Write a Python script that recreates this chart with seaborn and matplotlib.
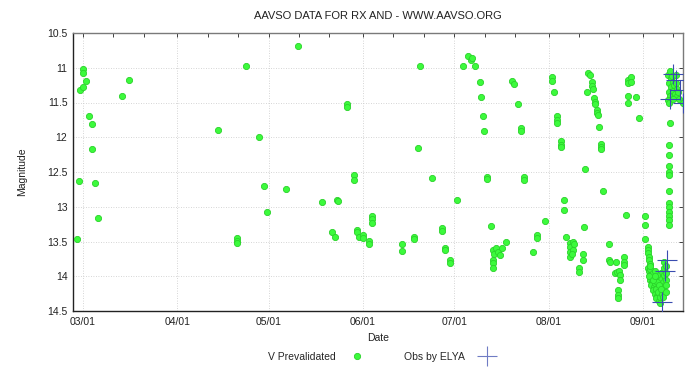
import numpy as np
import pandas as pd
import matplotlib
matplotlib.use("Agg")
import matplotlib.pyplot as plt
import matplotlib.dates as mdates
from matplotlib.lines import Line2D
import seaborn as sns

# ---------------- data (days after 1 March, magnitude) ----------------
start_date = "2013-03-01"

v_days = [
    -1.9, -1.2, -0.9, -0.1, -0.1, 0.1, 1.0, 2.0, 2.9, 3.1, 3.9, 5.0, 12.8, 15.1,
    44.5, 50.5, 50.5, 50.6, 53.6, 57.9,
    59.5, 60.6, 66.6, 70.7, 78.5, 81.7, 82.7, 83.6, 83.8, 86.9, 86.9, 88.9, 88.9,
    89.9, 90.0, 90.7, 91.9, 91.9, 93.9, 93.9, 94.9, 94.9, 94.9,
    104.9, 104.9, 108.8, 108.8, 110.0, 110.8, 114.8, 117.9, 117.9, 119.0, 119.1,
    120.6, 120.6, 122.8, 124.8,
    126.6, 127.4, 127.9, 128.8, 130.5, 130.9, 131.6, 131.9, 132.9, 132.9, 134.0,
    134.8, 135.0, 134.8, 134.8, 134.8, 135.9, 136.5, 137.0, 137.8, 138.9, 140.9,
    141.7, 143.0, 143.8, 143.8, 145.0, 145.0, 148.0, 149.1, 149.1, 151.9,
    154.0, 154.0, 154.9, 155.9, 155.9, 155.9, 157.0, 157.0, 157.0, 158.1, 158.1,
    158.7, 160.0, 160.2, 160.0, 160.0, 161.0, 161.5, 161.2, 160.8, 162.9, 162.9,
    164.2, 164.2, 164.6, 165.1, 165.5, 166.1, 166.6, 167.4, 167.4, 167.7, 168.1,
    168.4, 168.4, 168.8, 168.8, 169.1, 169.6, 170.1, 170.1, 170.1, 170.8, 173.0,
    173.0, 173.2, 175.2, 175.0, 175.6, 176.2, 176.6, 176.6, 175.9, 175.9, 175.9,
    177.9, 177.9, 177.9, 178.6, 179.2, 179.2, 179.2, 179.2, 180.0, 180.0, 181.7,
    182.8,
    184.6, 184.6, 184.7, 185.7, 185.8, 185.8, 186.0, 186.0, 186.2,
    185.6, 185.9, 186.2, 186.5, 186.8, 186.4, 187.0, 187.3, 186.7, 187.6, 187.2,
    188.0, 187.9, 188.3, 188.6, 188.2, 189.0, 189.3, 189.6, 189.8, 190.2, 190.5,
    190.4, 190.1, 189.4, 188.8, 188.5, 187.9, 190.8, 190.9, 191.0, 186.0, 186.3,
    187.5, 188.0, 189.2, 189.9, 190.6,
    191.7, 191.7, 191.6, 191.5, 191.6,
    192.9, 192.7, 192.7, 192.7, 192.7, 192.7, 192.7, 192.7, 192.7, 192.7, 192.7,
    192.7, 192.7,
    192.4, 192.8, 193.1, 192.6, 193.3, 192.5, 193.0, 192.3, 192.7, 193.6, 194.0,
    194.3, 194.0, 194.5, 195.0, 195.3, 195.0, 195.6, 196.0, 197.1, 193.8, 194.8,
]

v_mags = [
    13.46, 12.63, 11.32, 11.28, 11.02, 11.07, 11.19, 11.69, 11.81, 12.17, 12.66, 13.16, 11.41, 11.17,
    11.90, 13.45, 13.49, 13.52, 10.97, 12.00,
    12.70, 13.08, 12.74, 10.69, 12.93, 13.37, 13.43, 12.90, 12.92, 11.52, 11.57, 12.55, 12.62,
    13.33, 13.36, 13.43, 13.41, 13.45, 13.49, 13.54, 13.14, 13.18, 13.23,
    13.53, 13.64, 13.43, 13.47, 12.15, 10.98, 12.58, 13.30, 13.35, 13.60, 13.62,
    13.77, 13.81, 12.91, 10.97,
    10.83, 10.89, 10.86, 10.97, 11.21, 11.42, 11.69, 11.91, 12.57, 12.60, 13.27,
    13.62, 13.68, 13.77, 13.81, 13.88, 13.60, 13.65, 13.69, 13.60, 13.51, 11.19,
    11.23, 11.52, 11.86, 11.91, 12.57, 12.61, 13.65, 13.41, 13.45, 13.20,
    11.13, 11.19, 11.35, 11.70, 11.75, 11.80, 12.06, 12.11, 12.14, 12.90, 13.05,
    13.44, 13.52, 13.58, 13.65, 13.72, 13.50, 13.53, 13.62, 13.68, 13.88, 13.94,
    13.68, 13.76, 13.29, 12.45, 11.35, 11.07, 11.10, 11.21, 11.26, 11.30, 11.44,
    11.49, 11.52, 11.61, 11.65, 11.68, 11.85, 12.09, 12.14, 12.17, 12.78, 13.54,
    13.76, 13.80, 13.80, 13.95, 13.94, 13.92, 13.98, 14.06, 14.20, 14.27, 14.32,
    13.73, 13.79, 13.84, 13.12, 11.18, 11.22, 11.41, 11.50, 11.13, 11.21, 11.42,
    11.73,
    13.14, 13.26, 13.47, 13.58, 13.62, 13.67, 13.72, 13.77, 13.82,
    13.88, 13.93, 13.98, 13.90, 14.02, 14.05, 14.08, 13.96, 14.12, 14.15, 14.20,
    14.10, 14.25, 14.18, 14.28, 14.32, 14.22, 14.35, 14.30, 14.38, 14.25, 14.15,
    14.05, 13.95, 14.02, 14.08, 13.98, 13.92, 13.88, 13.80, 13.98, 14.00, 13.85,
    14.05, 14.00, 14.12, 14.18, 14.30,
    13.85, 13.95, 14.05, 14.12, 14.22,
    11.80, 12.11, 12.26, 12.42, 12.50, 12.55, 12.78, 12.95, 13.00, 13.07, 13.14,
    13.19, 13.26,
    11.10, 11.05, 11.15, 11.22, 11.28, 11.35, 11.40, 11.46, 11.50, 11.12, 11.20,
    11.25, 11.33, 11.38, 11.22, 11.30, 11.42, 11.35, 11.45, 11.51, 11.45, 11.10,
]

elya_days = [193.8, 195.0, 196.2, 192.9, 197.3, 191.8, 191.2, 190.2]
elya_mags = [11.09, 11.17, 11.32, 11.45, 11.51, 13.77, 13.92, 14.37]

title = "AAVSO DATA FOR RX AND - WWW.AAVSO.ORG"
v_label = "V Prevalidated"
elya_label = "Obs by ELYA"
y_ticks = [10.5, 11, 11.5, 12, 12.5, 13, 13.5, 14, 14.5]

# ---------------- build frames ----------------
base = pd.Timestamp(start_date)
v_df = pd.DataFrame({"date": base + pd.to_timedelta(v_days, unit="D"), "mag": v_mags})
e_df = pd.DataFrame({"date": base + pd.to_timedelta(elya_days, unit="D"), "mag": elya_mags})

sns.set_theme(style="white")
plt.rcParams["font.family"] = ["Liberation Sans", "DejaVu Sans"]

GREEN_FACE, GREEN_EDGE, BLUE = "#3cfa3c", "#2ad22a", "#3a4cb0"

W, H = 700, 368
fig = plt.figure(figsize=(W / 100, H / 100), dpi=100)
L, R, T, B = 73, 683.3, 33, 311
ax = fig.add_axes([L / W, 1 - B / H, (R - L) / W, (B - T) / H])

sns.scatterplot(data=v_df, x="date", y="mag", ax=ax, marker="o", s=20,
                color=GREEN_FACE, edgecolor=GREEN_EDGE, linewidth=0.6,
                legend=False, zorder=3)
sns.scatterplot(data=e_df, x="date", y="mag", ax=ax, marker="+", s=210,
                color=BLUE, linewidth=0.8, legend=False, zorder=4)

ax.set_xlim(base - pd.Timedelta(days=3.3), base + pd.Timedelta(days=197.3))
ax.set_ylim(14.5, 10.5)
ax.set_yticks(y_ticks)
ax.set_yticklabels([f"{t:g}" for t in y_ticks])

ax.xaxis.set_major_locator(mdates.MonthLocator())
ax.xaxis.set_major_formatter(mdates.DateFormatter("%m/%d"))
ax.xaxis.set_minor_locator(mdates.DayLocator(bymonthday=[11, 21]))

ax.tick_params(axis="both", which="both", direction="in", top=True, right=True,
               labelsize=7.5, colors="#222222", pad=4)
ax.tick_params(axis="both", which="major", length=3, width=0.6)
ax.tick_params(axis="x", which="minor", length=3, width=0.6)

ax.grid(True, which="major", color="#c8c8c8", linestyle=(0, (1, 2)), linewidth=0.6)
ax.set_axisbelow(True)

for side in ["left", "bottom"]:
    ax.spines[side].set_color("#222222")
    ax.spines[side].set_linewidth(1.0)
for side in ["top", "right"]:
    ax.spines[side].set_color("#7a7a7a")
    ax.spines[side].set_linewidth(1.0)

ax.set_xlabel("Date", fontsize=7.5, color="#222222")
ax.xaxis.set_label_coords(0.5, (B - 338) / (B - T))
ax.xaxis.label.set_va("center")
ax.set_ylabel("Magnitude", fontsize=7.5, color="#222222")
ax.yaxis.set_label_coords((22 - L) / (R - L), 0.5)
ax.yaxis.label.set_va("center")

fig.text(378 / W, 1 - 16 / H, title, ha="center", va="center", fontsize=8,
         color="#222222")

handles = [
    Line2D([], [], linestyle="none", marker="o", markersize=4.5,
           markerfacecolor=GREEN_FACE, markeredgecolor=GREEN_EDGE, markeredgewidth=0.6),
    Line2D([], [], linestyle="none", marker="+", markersize=14.5,
           color="#6f7cc4", markeredgewidth=0.8),
]
fig.legend(handles, [v_label, elya_label], loc="center",
           bbox_to_anchor=(384 / W, 1 - 357 / H), ncol=2, markerfirst=False,
           frameon=False, handlelength=2.6, handletextpad=0.8, columnspacing=3.2,
           fontsize=7.5, numpoints=1)

fig.savefig("out.png", dpi=100)
